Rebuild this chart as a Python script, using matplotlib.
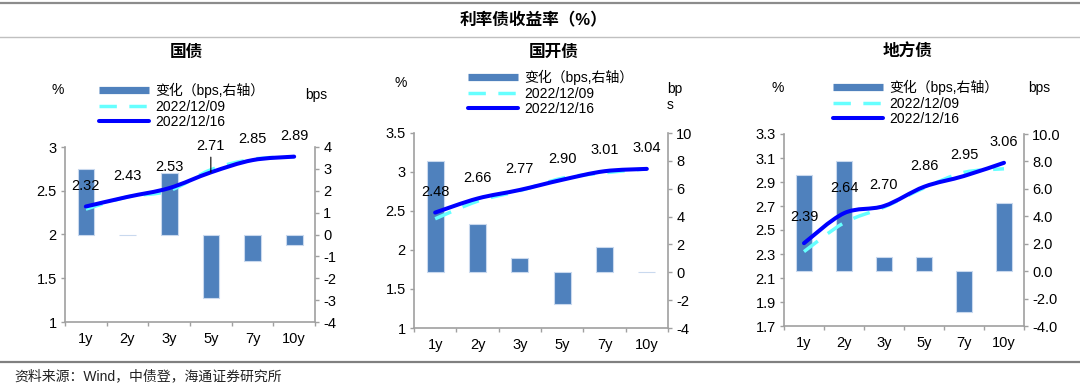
import numpy as np
import matplotlib
matplotlib.use('Agg')
import matplotlib.pyplot as plt
from matplotlib.path import Path
from matplotlib.patches import PathPatch
from matplotlib.lines import Line2D
from matplotlib.ticker import FuncFormatter

plt.rcParams['font.family'] = ['Liberation Sans', 'Noto Sans CJK SC']
plt.rcParams['axes.unicode_minus'] = False

# 数据
terms = ['1y', '2y', '3y', '5y', '7y', '10y']

gz_change = [3.0, 0.0, 2.8, -2.9, -1.2, -0.5]
gz_1209 = [2.29, 2.43, 2.50, 2.74, 2.86, 2.89]
gz_1216 = [2.32, 2.43, 2.53, 2.71, 2.85, 2.89]

gk_change = [8.0, 3.5, 1.0, -2.3, 1.8, 0.0]
gk_1209 = [2.40, 2.625, 2.76, 2.92, 2.99, 3.04]
gk_1216 = [2.48, 2.66, 2.77, 2.90, 3.01, 3.04]

df_change = [7.0, 8.0, 1.0, 1.0, -3.0, 5.0]
df_1209 = [2.32, 2.56, 2.69, 2.85, 2.98, 3.01]
df_1216 = [2.39, 2.64, 2.70, 2.86, 2.95, 3.06]

titles = ['国债', '国开债', '地方债']
legend_labels = ['变化（bps,右轴）', '2022/12/09', '2022/12/16']

# 颜色
bar_color = '#4F81BD'
bar_edge = '#C9D9EE'
cyan = '#66FFFF'
blue = '#0000FF'
axis_gray = '#A0A0A0'

W, H = 1080, 385


def fx(x):
    return x / W


def fy(y):
    return 1 - y / H


def smooth_path(xs, ys):
    # Excel风格的平滑曲线（三次贝塞尔）
    pts = np.column_stack([xs, ys]).astype(float)
    n = len(pts)
    verts = [pts[0]]
    codes = [Path.MOVETO]
    for i in range(n - 1):
        p0 = pts[i - 1] if i > 0 else pts[i]
        p1 = pts[i]
        p2 = pts[i + 1]
        p3 = pts[i + 2] if i + 2 < n else pts[i + 1]
        verts += [p1 + (p2 - p0) / 6, p2 - (p3 - p1) / 6, p2]
        codes += [Path.CURVE4] * 3
    return Path(verts, codes)


panels = [
    dict(change=gz_change, y09=gz_1209, y16=gz_1216,
         box=(65, 147, 315, 322), ylim=(1, 3), ystep=0.5, yfmt='%g',
         rlim=(-4, 4), rstep=1, rfmt='%g',
         title_x=186, legend=(99, 106), pct=(58, 90), bps=(316, 95, 'bps', 'center'),
         offsets=[15, 15, 15, 19, 15, 15], leader=3),
    dict(change=gk_change, y09=gk_1209, y16=gk_1216,
         box=(414, 133, 668, 328), ylim=(1, 3.5), ystep=0.5, yfmt='%g',
         rlim=(-4, 10), rstep=2, rfmt='%g',
         title_x=554, legend=(468, 93), pct=(401, 83), bps=(667, 97, 'bp\ns', 'left'),
         offsets=[15, 15, 15, 15, 15, 15], leader=None),
    dict(change=df_change, y09=df_1209, y16=df_1216,
         box=(784, 134, 1024, 326), ylim=(1.7, 3.3), ystep=0.2, yfmt='%.1f',
         rlim=(-4, 10), rstep=2, rfmt='%.1f',
         title_x=908, legend=(833, 103), pct=(778, 88), bps=(1039, 88, 'bps', 'center'),
         offsets=[19, 18, 15, 15, 15, 15], leader=None),
]

fig = plt.figure(figsize=(10.8, 3.85), dpi=100)

# 总标题与分隔线
fig.text(fx(533), fy(20), '利率债收益率（%）', ha='center', va='center',
         fontsize=12, fontweight='bold')
fig.add_artist(Line2D([0, 1], [fy(3), fy(3)], transform=fig.transFigure,
                      color='#8C8C8C', lw=1.6))
fig.add_artist(Line2D([0, 1], [fy(37), fy(37)], transform=fig.transFigure,
                      color='#C0C0C0', lw=1.0))
fig.add_artist(Line2D([0, 1], [fy(362), fy(362)], transform=fig.transFigure,
                      color='#808080', lw=1.6))
fig.text(fx(14), fy(376), '资料来源：Wind，中债登，海通证券研究所', ha='left', va='center',
         fontsize=10, color='#222222')

x = np.arange(len(terms))

for title, p in zip(titles, panels):
    l, t, r, b = p['box']
    ax = fig.add_axes([fx(l), fy(b), fx(r - l), (b - t) / H])
    ax2 = ax.twinx()

    # 柱状图（右轴）
    ax2.bar(x, p['change'], width=0.4, color=bar_color, edgecolor=bar_edge,
            linewidth=0.8, zorder=2)
    ax2.set_ylim(*p['rlim'])
    ax2.set_yticks(np.arange(p['rlim'][0], p['rlim'][1] + 0.001, p['rstep']))
    ax2.yaxis.set_major_formatter(FuncFormatter(lambda v, pos, f=p['rfmt']: f % v))

    # 收益率曲线（左轴）
    ax.set_zorder(ax2.get_zorder() + 1)
    ax.patch.set_visible(False)
    ax.add_patch(PathPatch(smooth_path(x, p['y09']), fill=False, edgecolor=cyan,
                           lw=2.5, linestyle=(0, (5.0, 3.6)), zorder=3))
    ax.add_patch(PathPatch(smooth_path(x, p['y16']), fill=False, edgecolor=blue,
                           lw=2.9, capstyle='round', zorder=4))
    ax.set_ylim(*p['ylim'])
    ax.set_yticks(np.arange(p['ylim'][0], p['ylim'][1] + 0.001, p['ystep']))
    ax.yaxis.set_major_formatter(FuncFormatter(lambda v, pos, f=p['yfmt']: f % v))
    ax.set_xlim(-0.5, len(terms) - 0.5)

    # 数据标签
    for i, v in enumerate(p['y16']):
        if p['leader'] == i:
            ax.annotate(f'{v:.2f}', (i, v), xytext=(0, p['offsets'][i]),
                        textcoords='offset points', ha='center', va='center',
                        fontsize=10.5, zorder=5,
                        arrowprops=dict(arrowstyle='-', color='black', lw=0.8,
                                        shrinkA=1, shrinkB=0))
        else:
            ax.annotate(f'{v:.2f}', (i, v), xytext=(0, p['offsets'][i]),
                        textcoords='offset points', ha='center', va='center',
                        fontsize=10.5, zorder=5)

    # 坐标轴样式
    ax.set_xticks(x)
    ax.set_xticklabels(terms)
    ax.set_xticks(np.arange(-0.5, len(terms), 1), minor=True)
    ax.tick_params(axis='x', which='major', length=0, pad=7, labelsize=10.5)
    ax.tick_params(axis='x', which='minor', length=3, color=axis_gray, width=1)
    ax.tick_params(axis='y', length=3, color=axis_gray, width=1, pad=3, labelsize=10.5)
    ax2.tick_params(axis='y', length=3, color=axis_gray, width=1, pad=3, labelsize=10.5)
    for s in ['top', 'right']:
        ax.spines[s].set_visible(False)
    for s in ['top', 'left', 'bottom']:
        ax2.spines[s].set_visible(False)
    ax.spines['left'].set_color(axis_gray)
    ax.spines['bottom'].set_color(axis_gray)
    ax2.spines['right'].set_color(axis_gray)
    for s in ['left', 'bottom']:
        ax.spines[s].set_linewidth(1.2)
    ax2.spines['right'].set_linewidth(1.2)

    # 图例
    handles = [
        Line2D([], [], color=bar_color, lw=5.2, solid_capstyle='butt'),
        Line2D([], [], color=cyan, lw=2.5, linestyle=(0, (5.0, 3.6))),
        Line2D([], [], color=blue, lw=2.9, solid_capstyle='round'),
    ]
    lx, ly = p['legend']
    ax.legend(handles, legend_labels, loc='center left',
              bbox_to_anchor=(fx(lx), fy(ly)), bbox_transform=fig.transFigure,
              frameon=False, fontsize=10, handlelength=3.6, handletextpad=0.45,
              labelspacing=0.1, borderpad=0, borderaxespad=0)

    # 分图标题与单位
    fig.text(fx(p['title_x']), fy(52), title, ha='center', va='center',
             fontsize=12, fontweight='bold')
    fig.text(fx(p['pct'][0]), fy(p['pct'][1]), '%', ha='center', va='center', fontsize=10)
    bx, by, btxt, bha = p['bps']
    fig.text(fx(bx), fy(by), btxt, ha=bha, va='center', fontsize=10, linespacing=1.1)

fig.savefig('out.png', dpi=100)
